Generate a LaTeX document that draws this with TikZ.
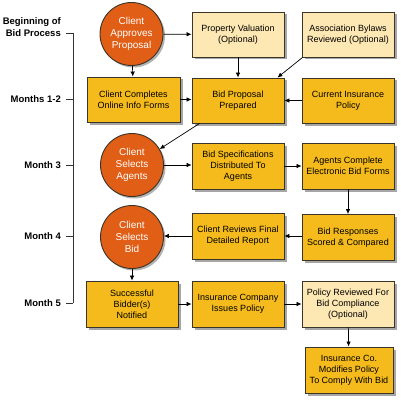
\documentclass[tikz,border=0pt]{standalone}
\usepackage{fontspec}
\setmainfont{Liberation Sans}
\usetikzlibrary{shadows,arrows.meta,positioning,calc}
\definecolor{gold}{HTML}{F5BB1C}
\definecolor{pale}{HTML}{FDE7B2}
\definecolor{orng}{HTML}{E05E16}
\definecolor{edge}{HTML}{3A3528}
\tikzset{
  box/.style={draw=edge, line width=0.9pt, fill=gold, minimum width=92pt, minimum height=45pt,
    align=center, inner sep=1pt, font=\fontsize{9}{11}\selectfont,
    drop shadow={shadow xshift=2.5pt, shadow yshift=-2.5pt, opacity=0.35, fill=black}},
  lbox/.style={box, fill=pale},
  circ/.style={circle, draw=edge, line width=0.9pt, fill=orng, minimum size=63pt, inner sep=0pt,
    align=center, text=white, font=\fontsize{10}{12}\selectfont,
    drop shadow={shadow xshift=2pt, shadow yshift=-2pt, opacity=0.3, fill=black}},
  lbl/.style={font=\bfseries\fontsize{9.5}{12}\selectfont, anchor=east, align=right, inner sep=0pt},
  arr/.style={-{Latex[length=5pt,width=4.5pt]}, line width=0.7pt, black},
  tl/.style={line width=0.9pt, black!80}
}
\begin{document}
\begin{tikzpicture}[x=1pt,y=-1pt]
\useasboundingbox (0,0) rectangle (400,401);
% timeline
\coordinate (t0) at (73,33);
\coordinate (t5) at (73,303);
\draw[tl] (t0) -- (t5);
\coordinate (k0) at (66,33);
\coordinate (k1) at (66,99);
\coordinate (k2) at (66,165);
\coordinate (k3) at (66,236);
\coordinate (k4) at (66,303);
\coordinate (m0) at (73,33);
\coordinate (m1) at (73,99);
\coordinate (m2) at (73,165);
\coordinate (m3) at (73,236);
\coordinate (m4) at (73,303);
\draw[tl] (k0) -- (m0);
\draw[tl] (k1) -- (m1);
\draw[tl] (k2) -- (m2);
\draw[tl] (k3) -- (m3);
\draw[tl] (k4) -- (m4);
\node[lbl, anchor=south east] (L0) at (61,37) {Beginning of\\Bid Process};
\node[lbl] (L1) at (61,99) {Months 1-2};
\node[lbl] (L2) at (61,165) {Month 3};
\node[lbl] (L3) at (61,236) {Month 4};
\node[lbl] (L4) at (61,303) {Month 5};
% nodes
\node[circ] (CA) at (131.5,34) {Client\\Approves\\Proposal};
\node[lbox] (PV) at (238,34.5) {Property Valuation\\(Optional)};
\node[lbox] (AB) at (348,34.5) {Association Bylaws\\Reviewed (Optional)};
\node[box, minimum width=93pt] (CC) at (133.5,99.5) {Client Completes\\Online Info Forms};
\node[box] (BP) at (238,100.5) {Bid Proposal\\Prepared};
\node[box] (CI) at (348,100.5) {Current Insurance\\Policy};
\node[circ] (CS) at (132,165) {Client\\Selects\\Agents};
\node[box, minimum height=46pt] (BS) at (238,166) {Bid Specifications\\Distributed To\\Agents};
\node[box, minimum height=46pt] (AC) at (348,166) {Agents Complete\\Electronic Bid Forms};
\node[circ] (SBid) at (132,237) {Client\\Selects\\Bid};
\node[box, minimum height=46pt] (CR) at (238,236) {Client Reviews Final\\Detailed Report};
\node[box, minimum height=46pt] (BR) at (348,237.5) {Bid Responses\\Scored \& Compared};
\node[box, minimum height=46pt] (SB) at (132,304) {Successful\\Bidder(s)\\Notified};
\node[box, minimum height=46pt] (IC) at (238,304) {Insurance Company\\Issues Policy};
\node[lbox, minimum height=46pt] (PR) at (348,304) {Policy Reviewed For\\Bid Compliance\\(Optional)};
\node[box, minimum height=46pt, minimum width=88pt] (IM) at (349,370) {Insurance Co.\\Modifies Policy\\To Comply With Bid};
% arrows
\draw[arr] (CA) -- (PV);
\draw[arr] (CA) -- (CC);
\draw[arr] (CC) -- (BP.west |- CC);
\draw[arr] (PV) -- (BP);
\draw[arr] ([xshift=1pt]AB.south west) -- ([xshift=-7pt]BP.north east);
\draw[arr] (CI) -- (BP);
\draw[arr] ([xshift=8pt]BP.south west) -- (CS.30);
\draw[arr] (CS) -- (BS.west |- CS);
\draw[arr] (BS) -- (AC);
\draw[arr] (AC) -- (BR);
\draw[arr] (BR.west |- CR) -- (CR);
\draw[arr] (CR) -- (SBid.east |- CR);
\draw[arr] (SBid) -- (SB);
\draw[arr] (SB) -- (IC);
\draw[arr] (IC) -- (PR);
\draw[arr] (PR) -- (IM);
\end{tikzpicture}
\end{document}
